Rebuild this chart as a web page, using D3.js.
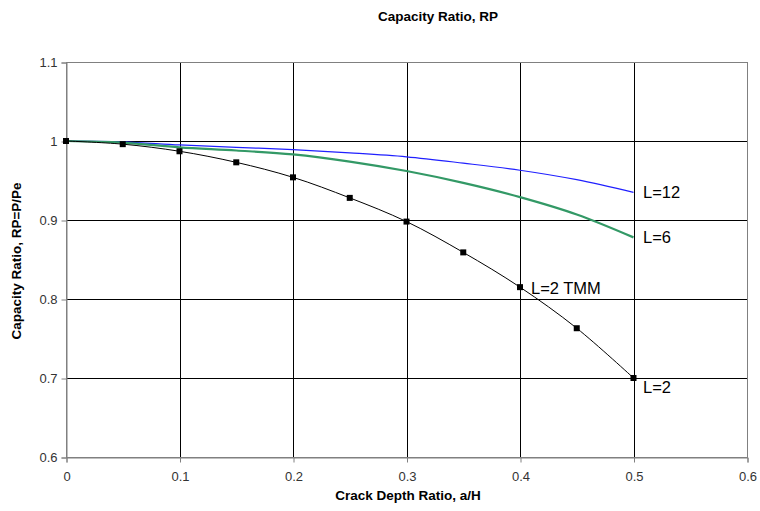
<!DOCTYPE html>
<html>
<head>
<meta charset="utf-8">
<script src="https://cdn.jsdelivr.net/npm/d3@7"></script>
<style>
  body { margin: 0; background: #fff; }
  svg { display: block; font-family: Arial, "Liberation Sans", sans-serif; }
  .tick text { font-size: 13px; fill: #333; }
  .ttl { font-size: 13.5px; font-weight: bold; fill: #000; }
  .lbl { font-size: 16.5px; fill: #000; }
</style>
</head>
<body>
<div id="chart"></div>
<script>
// crack depth ratio a/H
const xs = [0, 0.05, 0.1, 0.15, 0.2, 0.25, 0.3, 0.35, 0.4, 0.45, 0.5];
// capacity ratio for each slenderness
const rpL2 = [1.0, 0.996, 0.987, 0.973, 0.954, 0.928, 0.898, 0.859, 0.815, 0.763, 0.70];
const rpL6 = [1.0, 0.998, 0.992, 0.988, 0.983, 0.974, 0.962, 0.947, 0.929, 0.907, 0.878];
const rpL12 = [1.0, 0.999, 0.995, 0.992, 0.989, 0.985, 0.98, 0.972, 0.963, 0.951, 0.935];
const xTicks = [0, 0.1, 0.2, 0.3, 0.4, 0.5, 0.6];
const yTicks = [0.6, 0.7, 0.8, 0.9, 1, 1.1];

const width = 760, height = 511,
    margin = ({ top: 62, right: 13, bottom: 54, left: 66 });

const svg = d3.select("#chart")
    .append("svg")
    .attr("width", width)
    .attr("height", height);

let x = d3.scaleLinear()
    .domain([0, 0.6])
    .range([margin.left, width - margin.right]);

let y = d3.scaleLinear()
    .domain([0.6, 1.1])
    .range([height - margin.bottom, margin.top]);

// gridlines
svg.append("g")
    .selectAll("line.h")
    .data(yTicks.slice(1, -1))
    .join("line")
    .attr("x1", x(0)).attr("x2", x(0.6))
    .attr("y1", d => Math.round(y(d)) + 0.5).attr("y2", d => Math.round(y(d)) + 0.5)
    .attr("stroke", "#000");

svg.append("g")
    .selectAll("line.v")
    .data(xTicks.slice(1, -1))
    .join("line")
    .attr("y1", y(0.6)).attr("y2", y(1.1))
    .attr("x1", d => Math.round(x(d)) + 0.5).attr("x2", d => Math.round(x(d)) + 0.5)
    .attr("stroke", "#000");

// plot area border
svg.append("rect")
    .attr("x", Math.round(x(0)) + 0.5)
    .attr("y", Math.round(y(1.1)) + 0.5)
    .attr("width", Math.round(x(0.6)) - Math.round(x(0)))
    .attr("height", Math.round(y(0.6)) - Math.round(y(1.1)))
    .attr("fill", "none")
    .attr("stroke", "#808080");

// axes
const yAxis = svg.append("g")
    .attr("transform", `translate(${Math.round(x(0)) + 0.5},0.5)`)
    .call(d3.axisLeft(y).tickValues(yTicks).tickSize(5).tickPadding(4).tickFormat(d3.format("")));
yAxis.select(".domain").attr("stroke", "#808080");
yAxis.selectAll(".tick line").attr("stroke", "#808080");

const xAxis = svg.append("g")
    .attr("transform", `translate(0.5,${Math.round(y(0.6)) + 0.5})`)
    .call(d3.axisBottom(x).tickValues(xTicks).tickSize(5).tickPadding(9).tickFormat(d3.format("")));
xAxis.select(".domain").attr("stroke", "#808080");
xAxis.selectAll(".tick line").attr("stroke", "#808080");

// titles
svg.append("text")
    .attr("class", "ttl")
    .attr("x", 438)
    .attr("y", 21)
    .attr("text-anchor", "middle")
    .text("Capacity Ratio, RP");

svg.append("text")
    .attr("class", "ttl")
    .attr("x", 408)
    .attr("y", 500)
    .attr("text-anchor", "middle")
    .text("Crack Depth Ratio, a/H");

svg.append("text")
    .attr("class", "ttl")
    .attr("transform", "translate(21,261) rotate(-90)")
    .attr("text-anchor", "middle")
    .text("Capacity Ratio, RP=P/Pe");

// lines
const line = vals => d3.line()
    .x((d, i) => x(xs[i]))
    .y(d => y(d))
    .curve(d3.curveCatmullRom)(vals);

svg.append("path")
    .attr("d", line(rpL12))
    .attr("fill", "none")
    .attr("stroke", "#2020ff")
    .attr("stroke-width", 1.2);

svg.append("path")
    .attr("d", line(rpL6))
    .attr("fill", "none")
    .attr("stroke", "#339966")
    .attr("stroke-width", 2.2);

svg.append("path")
    .attr("d", line(rpL2))
    .attr("fill", "none")
    .attr("stroke", "#000")
    .attr("stroke-width", 1);

svg.append("g")
    .selectAll("rect")
    .data(rpL2)
    .join("rect")
    .attr("x", (d, i) => x(xs[i]) - 3)
    .attr("y", d => y(d) - 3)
    .attr("width", 6)
    .attr("height", 6)
    .attr("fill", "#000");

// series labels
const labels = [
    { t: "L=12", x: 643, y: 198 },
    { t: "L=6", x: 643, y: 243 },
    { t: "L=2 TMM", x: 531, y: 294 },
    { t: "L=2", x: 643, y: 393 }
];
svg.append("g")
    .selectAll("text")
    .data(labels)
    .join("text")
    .attr("class", "lbl")
    .attr("x", d => d.x)
    .attr("y", d => d.y)
    .text(d => d.t);
</script>
</body>
</html>
